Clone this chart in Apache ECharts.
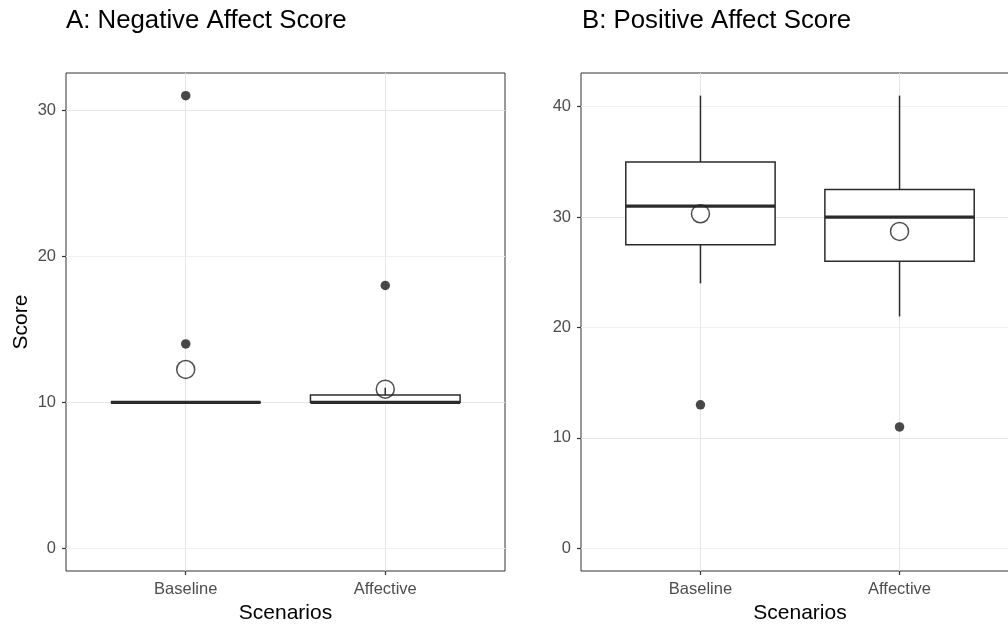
<!DOCTYPE html>
<html>
<head>
<meta charset="utf-8">
<title>Affect Scores</title>
<script src="https://cdn.jsdelivr.net/npm/echarts@6/dist/echarts.min.js"></script>
<style>
  html, body { margin: 0; padding: 0; background: #fff; overflow: hidden; }
  #chart { width: 1008px; height: 624px; }
</style>
</head>
<body>
<div id="chart"></div>
<script>
// x categories
const scenarios = ['Baseline', 'Affective'];

// box stats: [lower whisker, Q1, median, Q3, upper whisker]
const negativeBox = [[10, 10, 10, 10, 10], [10, 10, 10, 10.5, 11]];
const negativeOutliers = [[31, 14], [18]];
const negativeMeans = [12.25, 10.9];

const positiveBox = [[24, 27.5, 31, 35, 41], [21, 26, 30, 32.5, 41]];
const positiveOutliers = [[13], [11]];
const positiveMeans = [30.3, 28.7];

const negativeTicks = [0, 10, 20, 30];
const positiveTicks = [0, 10, 20, 30, 40];

const FONT = "'Liberation Sans', Arial, Helvetica, sans-serif";
const BOX_WIDTH = 0.75;

// ggplot style limits: include 0, pad 5% each side
function yLimits(box, outliers) {
  let hi = 0;
  box.forEach(b => { hi = Math.max(hi, ...b); });
  outliers.forEach(o => { hi = Math.max(hi, ...o); });
  const pad = hi * 0.05;
  return [-pad, hi + pad];
}

function renderBox(params, api) {
  const x = api.value(0);
  const lo = api.coord([x, api.value(1)]);
  const q1 = api.coord([x, api.value(2)]);
  const med = api.coord([x, api.value(3)]);
  const q3 = api.coord([x, api.value(4)]);
  const hi = api.coord([x, api.value(5)]);
  const half = api.size([BOX_WIDTH, 0])[0] / 2;
  const line = { stroke: '#2b2b2b', lineWidth: 1.5 };
  return {
    type: 'group',
    children: [
      { type: 'line', shape: { x1: lo[0], y1: lo[1], x2: q1[0], y2: q1[1] }, style: line },
      { type: 'line', shape: { x1: q3[0], y1: q3[1], x2: hi[0], y2: hi[1] }, style: line },
      { type: 'rect', shape: { x: q1[0] - half, y: q3[1], width: half * 2, height: q1[1] - q3[1] },
        style: { fill: '#fff', stroke: '#2b2b2b', lineWidth: 1.5 } },
      { type: 'line', shape: { x1: med[0] - half, y1: med[1], x2: med[0] + half, y2: med[1] },
        style: { stroke: '#2b2b2b', lineWidth: 3.2 } }
    ]
  };
}

function xAxisFor(gridIndex) {
  return {
    type: 'value', gridIndex: gridIndex,
    min: 0.4, max: scenarios.length + 0.6,
    splitNumber: 2, minInterval: 1, maxInterval: 1,
    axisLine: { show: false, onZero: false },
    axisTick: { show: true, length: 4, customValues: [1, 2], lineStyle: { color: '#333', width: 1.2 } },
    axisLabel: { customValues: [1, 2], formatter: v => scenarios[Math.round(v) - 1] || '',
      color: '#4d4d4d', fontSize: 16.5, margin: 10, fontFamily: FONT },
    splitLine: { show: true, lineStyle: { color: '#e6e6e6', width: 1 } },
    name: 'Scenarios', nameLocation: 'middle', nameGap: 30,
    nameTextStyle: { color: '#000', fontSize: 21, fontFamily: FONT }
  };
}

function yAxisFor(gridIndex, limits, ticks, name) {
  return {
    type: 'value', gridIndex: gridIndex,
    min: limits[0], max: limits[1],
    minInterval: 5, maxInterval: 5,
    axisLine: { show: false, onZero: false },
    axisTick: { show: true, length: 4, customValues: ticks, lineStyle: { color: '#333', width: 1.2 } },
    axisLabel: { customValues: ticks, color: '#4d4d4d', fontSize: 16.5, margin: 10, fontFamily: FONT },
    splitLine: { show: true, lineStyle: { color: ['#f1f1f1', '#e6e6e6'], width: 1 } },
    name: name, nameLocation: 'middle', nameGap: 34,
    nameTextStyle: { color: '#000', fontSize: 21, fontFamily: FONT }
  };
}

function panelSeries(gridIndex, box, outliers, means) {
  const boxData = box.map((b, i) => [i + 1].concat(b));
  const outData = [];
  outliers.forEach((vals, i) => vals.forEach(v => outData.push([i + 1, v])));
  const meanData = means.map((m, i) => [i + 1, m]);
  return [
    {
      type: 'custom', xAxisIndex: gridIndex, yAxisIndex: gridIndex,
      renderItem: renderBox, data: boxData,
      encode: { x: 0, y: [1, 2, 3, 4, 5] }
    },
    {
      type: 'scatter', xAxisIndex: gridIndex, yAxisIndex: gridIndex,
      data: outData, symbol: 'circle', symbolSize: 9.5,
      itemStyle: { color: '#1a1a1a' }
    },
    {
      type: 'scatter', xAxisIndex: gridIndex, yAxisIndex: gridIndex,
      data: meanData, symbol: 'circle', symbolSize: 18,
      itemStyle: { color: 'rgba(0,0,0,0)', borderColor: '#222', borderWidth: 1.5 }
    }
  ];
}

const negLimits = yLimits(negativeBox, negativeOutliers);
const posLimits = yLimits(positiveBox, positiveOutliers);

const chart = echarts.init(document.getElementById('chart'));
chart.setOption({
  animation: false,
  backgroundColor: '#fff',
  title: [
    { text: 'A: Negative Affect Score', left: 61, top: 3,
      textStyle: { color: '#000', fontSize: 25.8, fontWeight: 'normal', fontFamily: FONT } },
    { text: 'B: Positive Affect Score', left: 577, top: 3,
      textStyle: { color: '#000', fontSize: 25.8, fontWeight: 'normal', fontFamily: FONT } }
  ],
  grid: [
    { left: 66, top: 73, width: 439, height: 498, outerBoundsMode: 'none',
      show: true, borderColor: '#333', borderWidth: 1, backgroundColor: '#fff' },
    // panel B runs past the right edge of the picture, as in the original
    { left: 581, top: 73, width: 438, height: 498, outerBoundsMode: 'none',
      show: true, borderColor: '#333', borderWidth: 1, backgroundColor: '#fff' }
  ],
  xAxis: [xAxisFor(0), xAxisFor(1)],
  yAxis: [yAxisFor(0, negLimits, negativeTicks, 'Score'), yAxisFor(1, posLimits, positiveTicks, '')],
  series: panelSeries(0, negativeBox, negativeOutliers, negativeMeans)
    .concat(panelSeries(1, positiveBox, positiveOutliers, positiveMeans))
});
</script>
</body>
</html>
